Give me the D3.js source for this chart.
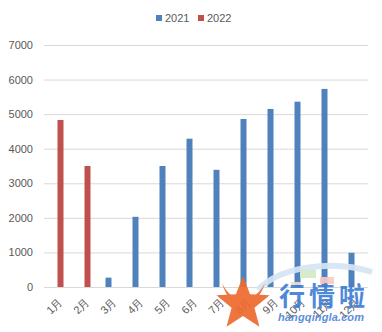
<!DOCTYPE html>
<html>
<head>
<meta charset="utf-8">
<script src="https://cdn.jsdelivr.net/npm/d3@7"></script>
<style>
  html, body { margin: 0; padding: 0; background: #fff; }
  svg { display: block; font-family: "Liberation Sans", Arial, "Noto Sans CJK SC", sans-serif; }
</style>
</head>
<body>
<svg id="chart" width="382" height="332"></svg>
<script>
// Monthly figures for two years
const months = ["1月", "2月", "3月", "4月", "5月", "6月", "7月", "8月", "9月", "10月", "11月", "12月"];
const values2021 = [null, null, 270, 2030, 3500, 4290, 3390, 4860, 5150, 5360, 5730, 990];
const values2022 = [4830, 3500, null, null, null, null, null, null, null, null, null, null];
const seriesNames = ["2021", "2022"];
const seriesColors = ["#4F81BD", "#C0504D"];
const yTicks = [0, 1000, 2000, 3000, 4000, 5000, 6000, 7000];

const svg = d3.select("#chart");
const plotLeft = 44, plotRight = 368, plotTop = 45, plotBottom = 287;

const x = d3.scaleBand().domain(months).range([plotLeft, plotRight]).paddingInner(0).paddingOuter(0);
const groupW = 12;
const xSub = d3.scaleBand().domain(seriesNames).range([0, groupW]);
const y = d3.scaleLinear().domain([0, 7000]).range([plotBottom, plotTop]);

// Horizontal gridlines with value labels
const yAxis = d3.axisLeft(y).tickValues(yTicks).tickSize(-(plotRight - plotLeft)).tickPadding(11).tickFormat(d3.format("d"));
const gy = svg.append("g").attr("transform", `translate(${plotLeft},0)`).call(yAxis);
gy.select(".domain").remove();
gy.selectAll(".tick line").attr("stroke", "#D9D9D9").attr("stroke-width", 1);
gy.selectAll(".tick text").attr("fill", "#595959").style("font-size", "11px");

// Bars
const series = [values2021, values2022];
series.forEach((vals, si) => {
  svg.append("g").selectAll("rect")
    .data(months.map((m, i) => ({ m, v: vals[i] })).filter(d => d.v != null))
    .join("rect")
    .attr("x", d => x(d.m) + (x.bandwidth() - groupW) / 2 + xSub(seriesNames[si]))
    .attr("width", xSub.bandwidth())
    .attr("y", d => y(d.v))
    .attr("height", d => y(0) - y(d.v))
    .attr("fill", seriesColors[si]);
});

// Category labels, rotated
const xAxis = d3.axisBottom(x).tickSize(0).tickPadding(0);
const gx = svg.append("g").attr("transform", `translate(0,${plotBottom})`).call(xAxis);
gx.select(".domain").remove();
gx.selectAll(".tick text")
  .attr("fill", "#595959")
  .style("font-size", "11px")
  .attr("text-anchor", "end")
  .attr("y", 0).attr("dy", "0.35em")
  .attr("transform", "translate(3,13) rotate(-45)");

// Legend
const legend = svg.append("g");
const legendX = [156, 198];
seriesNames.forEach((name, i) => {
  legend.append("rect").attr("x", legendX[i]).attr("y", 15).attr("width", 6).attr("height", 6).attr("fill", seriesColors[i]);
  legend.append("text").attr("x", legendX[i] + 9).attr("y", 22).attr("fill", "#595959").style("font-size", "11px").text(name);
});

// Site watermark, stamped over the lower right corner
const wm = svg.append("g").attr("opacity", 0.92);
wm.append("path")
  .attr("d", "M258,290 A80,42 0 0 1 372,272")
  .attr("fill", "none").attr("stroke", "#d6e5f5").attr("stroke-width", 6);
wm.append("rect").attr("x", 300).attr("y", 270).attr("width", 16).attr("height", 8).attr("fill", "#d3eac6");
wm.append("rect").attr("x", 320).attr("y", 277).attr("width", 14).attr("height", 7).attr("fill", "#f6cbc4");
wm.append("rect").attr("x", 291).attr("y", 282).attr("width", 10).attr("height", 6).attr("fill", "#f6d8ca");
const star = d3.range(10).map(k => {
  const a = -Math.PI / 2 + k * Math.PI / 5;
  const r = k % 2 === 0 ? 28 : 12;
  return [243 + r * Math.cos(a), 304 + r * Math.sin(a)];
});
wm.append("path").attr("d", d3.line()(star) + "Z").attr("fill", "#EE6A2E");
wm.append("path").attr("d", "M222,283 Q230,300 243,298 Q256,300 265,283 Q258,304 243,306 Q228,304 222,283Z").attr("fill", "#EE6A2E");
wm.append("text").attr("x", 279).attr("y", 306).attr("fill", "#3f7fd6")
  .style("font-size", "26px").style("font-weight", "bold").style("font-family", "'Noto Sans CJK SC', sans-serif")
  .attr("textLength", 86).text("行情啦");
wm.append("text").attr("x", 278).attr("y", 321).attr("fill", "#4f86d6")
  .style("font-size", "11px").style("font-style", "italic").style("font-weight", "bold")
  .attr("textLength", 86).text("hangqingla.com");
</script>
</body>
</html>
